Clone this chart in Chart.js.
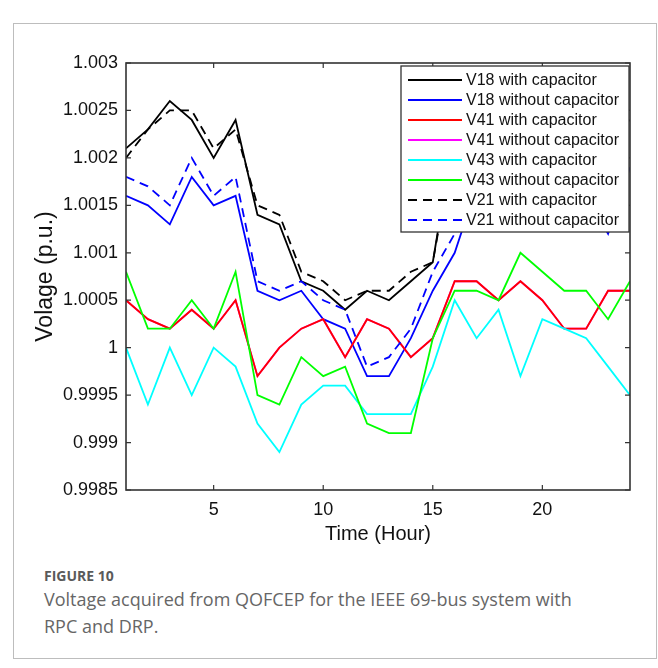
<!DOCTYPE html>
<html>
<head>
<meta charset="utf-8">
<script src="https://cdn.jsdelivr.net/npm/chart.js@4.4.1/dist/chart.umd.min.js"></script>
<style>
  html, body { margin: 0; padding: 0; background: #fff; }
  #frame {
    position: absolute; left: 13px; top: 23px;
    width: 642px; height: 634px;
    border: 1px solid #bdbdbd;
  }
  #chart { position: absolute; left: 0; top: 0; }
  .cap {
    position: absolute; left: 44px;
    font-family: "Open Sans", "Noto Sans", sans-serif;
    color: #666;
  }
  #figno { top: 566px; font-size: 14px; font-weight: 700; color: #5a5a5a; }
  #figtxt { top: 586px; font-size: 18px; line-height: 27px; width: 580px; }
</style>
</head>
<body>
<div id="frame"></div>
<canvas id="chart" width="658" height="560"></canvas>
<div class="cap" id="figno">FIGURE 10</div>
<div class="cap" id="figtxt">Voltage acquired from QOFCEP for the IEEE 69-bus system with<br>RPC and DRP.</div>

<script>
(function () {
  "use strict";

  // hours of the day
  const hours = [1, 2, 3, 4, 5, 6, 7, 8, 9, 10, 11, 12, 13, 14, 15, 16, 17, 18, 19, 20, 21, 22, 23, 24];
  const xTicks = [5, 10, 15, 20];

  // bus voltages (p.u.)
  const v18With    = [1.0021, 1.0023, 1.0026, 1.0024, 1.0020, 1.0024, 1.0014, 1.0013, 1.0007, 1.0006, 1.0004, 1.0006,
                      1.0005, 1.0007, 1.0009, 1.0023, 1.0025, 1.0024, 1.0026, 1.0025, 1.0023, 1.0024, 1.0022, 1.0024];
  const v18Without = [1.0016, 1.0015, 1.0013, 1.0018, 1.0015, 1.0016, 1.0006, 1.0005, 1.0006, 1.0003, 1.0002, 0.9997,
                      0.9997, 1.0001, 1.0006, 1.0010, 1.0017, 1.0016, 1.0018, 1.0017, 1.0015, 1.0016, 1.0012, 1.0019];
  const v41With    = [1.0005, 1.0003, 1.0002, 1.0004, 1.0002, 1.0005, 0.9997, 1.0000, 1.0002, 1.0003, 0.9999, 1.0003,
                      1.0002, 0.9999, 1.0001, 1.0007, 1.0007, 1.0005, 1.0007, 1.0005, 1.0002, 1.0002, 1.0006, 1.0006];
  const v41Without = [1.0005, 1.0003, 1.0002, 1.0004, 1.0002, 1.0005, 0.9997, 1.0000, 1.0002, 1.0003, 0.9999, 1.0003,
                      1.0002, 0.9999, 1.0001, 1.0007, 1.0007, 1.0005, 1.0007, 1.0005, 1.0002, 1.0002, 1.0006, 1.0006];
  const v43With    = [1.0000, 0.9994, 1.0000, 0.9995, 1.0000, 0.9998, 0.9992, 0.9989, 0.9994, 0.9996, 0.9996, 0.9993,
                      0.9993, 0.9993, 0.9998, 1.0005, 1.0001, 1.0004, 0.9997, 1.0003, 1.0002, 1.0001, 0.9998, 0.9995];
  const v43Without = [1.0008, 1.0002, 1.0002, 1.0005, 1.0002, 1.0008, 0.9995, 0.9994, 0.9999, 0.9997, 0.9998, 0.9992,
                      0.9991, 0.9991, 1.0001, 1.0006, 1.0006, 1.0005, 1.0010, 1.0008, 1.0006, 1.0006, 1.0003, 1.0007];
  const v21With    = [1.0020, 1.0023, 1.0025, 1.0025, 1.0021, 1.0023, 1.0015, 1.0014, 1.0008, 1.0007, 1.0005, 1.0006,
                      1.0006, 1.0008, 1.0009, 1.0022, 1.0024, 1.0025, 1.0024, 1.0026, 1.0024, 1.0023, 1.0024, 1.0023];
  const v21Without = [1.0018, 1.0017, 1.0015, 1.0020, 1.0016, 1.0018, 1.0007, 1.0006, 1.0007, 1.0005, 1.0004, 0.9998,
                      0.9999, 1.0002, 1.0008, 1.0012, 1.0018, 1.0017, 1.0019, 1.0018, 1.0016, 1.0017, 1.0016, 1.0020];

  const FONT = "'Liberation Sans', Arial, sans-serif";

  const pts = (arr) => arr.map((v, i) => ({ x: hours[i], y: v }));

  // [label, values, colour, dashed, draw order (lower = on top)]
  const series = [
    ['V18 with capacitor',    v18With,    '#000000', false, 8],
    ['V18 without capacitor', v18Without, '#0000ff', false, 7],
    ['V41 with capacitor',    v41With,    '#ff0000', false, 5],
    ['V41 without capacitor', v41Without, '#ff00ff', false, 6],
    ['V43 with capacitor',    v43With,    '#00ffff', false, 4],
    ['V43 without capacitor', v43Without, '#00ff00', false, 3],
    ['V21 with capacitor',    v21With,    '#000000', true,  2],
    ['V21 without capacitor', v21Without, '#0000ff', true,  1]
  ];
  const DASH = [9, 6];

  // box around the plot, inward ticks and the legend panel
  const boxLegend = {
    id: 'boxLegend',
    afterDatasetsDraw(chart) {
      const { ctx, chartArea: a, scales: { x, y } } = chart;
      ctx.save();
      ctx.strokeStyle = '#333';
      ctx.lineWidth = 1.6;
      ctx.strokeRect(a.left, a.top, a.right - a.left, a.bottom - a.top);
      ctx.lineWidth = 1.2;
      ctx.beginPath();
      x.ticks.forEach(t => {
        const px = x.getPixelForValue(t.value);
        ctx.moveTo(px, a.bottom); ctx.lineTo(px, a.bottom - 5);
        ctx.moveTo(px, a.top);    ctx.lineTo(px, a.top + 5);
      });
      y.ticks.forEach(t => {
        const py = y.getPixelForValue(t.value);
        ctx.moveTo(a.left, py);  ctx.lineTo(a.left + 5, py);
        ctx.moveTo(a.right, py); ctx.lineTo(a.right - 5, py);
      });
      ctx.stroke();

      // legend
      const bw = 228, bh = 166;
      const bx = a.right - 1 - bw, by = a.top + 3;
      ctx.fillStyle = '#fff';
      ctx.fillRect(bx, by, bw, bh);
      ctx.lineWidth = 1.3;
      ctx.strokeStyle = '#333';
      ctx.strokeRect(bx, by, bw, bh);
      ctx.font = '16px ' + FONT;
      ctx.textBaseline = 'middle';
      ctx.textAlign = 'left';
      chart.data.datasets.forEach((ds, i) => {
        const ly = by + 14 + i * 20;
        ctx.strokeStyle = ds.borderColor;
        ctx.lineWidth = 1.8;
        ctx.setLineDash(ds.borderDash || []);
        ctx.beginPath();
        ctx.moveTo(bx + 7, ly);
        ctx.lineTo(bx + 61, ly);
        ctx.stroke();
        ctx.setLineDash([]);
        ctx.fillStyle = '#111';
        ctx.fillText(ds.label, bx + 65, ly + 1);
      });
      ctx.restore();
    }
  };

  new Chart(document.getElementById('chart'), {
    type: 'line',
    data: {
      datasets: series.map(([label, vals, color, dashed, order]) => ({
        label: label,
        data: pts(vals),
        borderColor: color,
        backgroundColor: color,
        borderWidth: 1.8,
        borderDash: dashed ? DASH : [],
        pointRadius: 0,
        tension: 0,
        fill: false,
        order: order
      }))
    },
    options: {
      responsive: false,
      animation: false,
      devicePixelRatio: 1,
      layout: { padding: { left: 0, top: 63, right: 28, bottom: 0 } },
      plugins: { legend: { display: false }, tooltip: { enabled: false } },
      scales: {
        x: {
          type: 'linear',
          min: 1,
          max: 24,
          afterBuildTicks: (s) => { s.ticks = xTicks.map(v => ({ value: v })); },
          afterFit: (s) => { s.height = 70; },
          grid: { display: false },
          border: { display: false },
          ticks: { color: '#111', font: { family: FONT, size: 18 }, padding: 1 },
          title: {
            display: true, text: 'Time (Hour)', color: '#111',
            font: { family: FONT, size: 20 }, padding: { top: 0, bottom: 14 }
          }
        },
        y: {
          min: 0.9985,
          max: 1.003,
          afterFit: (s) => { s.width = 126; },
          grid: { display: false },
          border: { display: false },
          ticks: {
            stepSize: 0.0005,
            color: '#111',
            font: { family: FONT, size: 18 },
            padding: 0,
            callback: (v) => String(+v.toFixed(4))
          },
          title: {
            display: true, text: 'Volage (p.u.)', color: '#111',
            font: { family: FONT, size: 23 }, padding: { top: 32, bottom: 0 }
          }
        }
      }
    },
    plugins: [boxLegend]
  });
})();
</script>
</body>
</html>
